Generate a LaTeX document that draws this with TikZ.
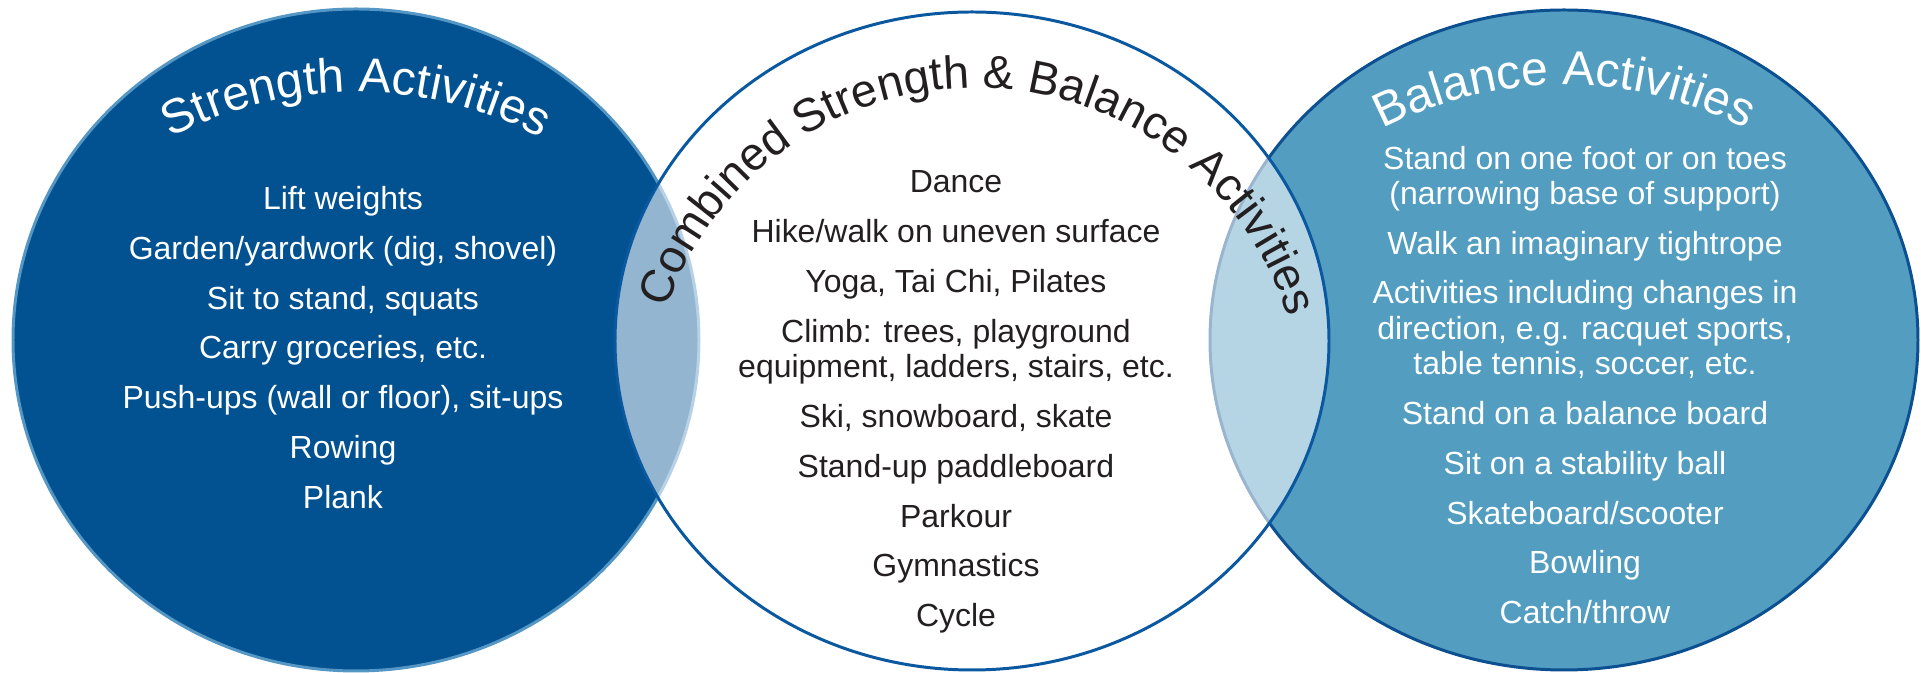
\documentclass[tikz,border=0pt]{standalone}
\usepackage{fontspec}
\setmainfont{Liberation Sans}
\usepackage{xcolor}
\usetikzlibrary{decorations.text}

\definecolor{strengthblue}{RGB}{2,81,145}
\definecolor{strengthrim}{RGB}{84,150,196}
\definecolor{balanceblue}{RGB}{82,157,192}
\definecolor{balancerim}{RGB}{12,80,145}
\definecolor{comborim}{RGB}{10,88,160}
\definecolor{inktext}{RGB}{35,31,32}
\newcommand{\vennhead}{\fontsize{13.7}{16}\selectfont}
\newcommand{\combohead}{\fontsize{13.2}{16}\selectfont}

\begin{document}
\begin{tikzpicture}[
  ring/.style={line width=0.85pt},
  itemlist/.style={align=center,inner sep=0pt,font=\fontsize{9.1}{10}\selectfont},
  arctitle/.style={decorate,decoration={text along path,text align=center,text={#1}}}
]
\useasboundingbox (0,0) rectangle (19.21,6.73);

\coordinate (strength) at (3.56,3.33);
\coordinate (combined) at (9.72,3.32);
\coordinate (balance) at (15.64,3.33);
\coordinate (strengtharc) at (3.56,1.86);
\coordinate (combinedarc) at (9.76,2.58);
\coordinate (balancearc) at (15.64,1.93);

\filldraw[ring,fill=strengthblue,draw=strengthrim] (strength) ellipse [x radius=3.43,y radius=3.31];
\filldraw[ring,fill=balanceblue,draw=balancerim] (balance) ellipse [x radius=3.54,y radius=3.30];
\draw[ring,draw=comborim,fill=white,fill opacity=0.58] (combined) ellipse [x radius=3.57,y radius=3.29];

\path[arctitle={|\color{white}\vennhead|Strength Activities}]
  (strengtharc) ++(150:3.95) arc [start angle=150,end angle=30,radius=3.95];
\path[arctitle={|\color{inktext}\combohead|Combined Strength {\&} Balance Activities}]
  (combinedarc) ++(185:3.27) arc [start angle=185,end angle=-6.5,radius=3.27];
\path[arctitle={|\color{white}\vennhead|Balance Activities}]
  (balancearc) ++(150:3.95) arc [start angle=150,end angle=30,radius=3.95];

\node[itemlist,text=white] (strengthlist) at (3.43,3.255) {Lift weights\\[4.2pt]Garden/yardwork (dig, shovel)\\[4.2pt]Sit to stand, squats\\[4.2pt]Carry groceries, etc.\\[4.2pt]Push-ups (wall or floor), sit-ups\\[4.2pt]Rowing\\[4.2pt]Plank};
\node[itemlist,text=inktext] (combinedlist) at (9.56,2.71) {Dance\\[4.2pt]Hike/walk on uneven surface\\[4.2pt]Yoga, Tai Chi, Pilates\\[4.2pt]Climb: trees, playground\\equipment, ladders, stairs, etc.\\[4.2pt]Ski, snowboard, skate\\[4.2pt]Stand-up paddleboard\\[4.2pt]Parkour\\[4.2pt]Gymnastics\\[4.2pt]Cycle};
\node[itemlist,text=white] (balancelist) at (15.85,2.88) {Stand on one foot or on toes\\(narrowing base of support)\\[4.2pt]Walk an imaginary tightrope\\[4.2pt]Activities including changes in\\direction, e.g. racquet sports,\\table tennis, soccer, etc.\\[4.2pt]Stand on a balance board\\[4.2pt]Sit on a stability ball\\[4.2pt]Skateboard/scooter\\[4.2pt]Bowling\\[4.2pt]Catch/throw};
\end{tikzpicture}
\end{document}
